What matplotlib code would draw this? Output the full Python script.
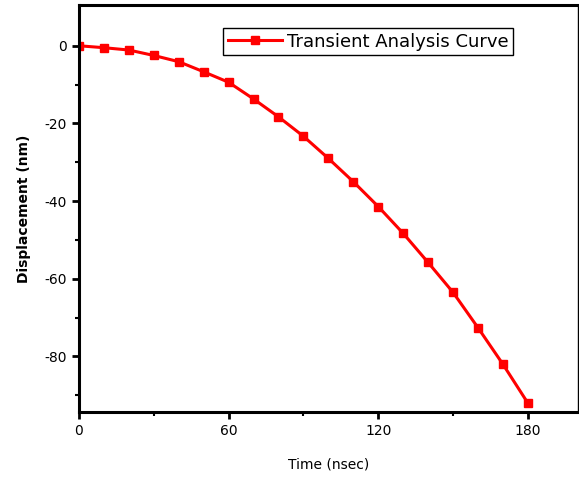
import matplotlib.pyplot as plt
import numpy as np

plt.rcParams['axes.unicode_minus'] = False

time_ns = [0, 10, 20, 30, 40, 50, 60, 70, 80, 90, 100, 110, 120, 130, 140, 150, 160, 170, 180]
displacement = [0, -0.5, -1.1, -2.5, -4.1, -6.7, -9.4, -13.7, -18.3, -23.3, -29.0, -35.0,
                -41.4, -48.3, -55.8, -63.5, -72.6, -82.0, -92.0]

fig = plt.figure(figsize=(5.79, 4.79), dpi=100)
ax = fig.add_axes([0.1364, 0.1399, 0.8614, 0.8497])

ax.plot(time_ns, displacement, color="red", lw=2.2, marker="s", ms=6,
        label="Transient Analysis Curve")

ax.set_xlim(0, 200)
ax.set_ylim(-94.3, 10.5)
ax.set_xticks([0, 60, 120, 180])
ax.set_xticks([30, 90, 150], minor=True)
ax.set_yticks([0, -20, -40, -60, -80])
ax.set_yticks([-10, -30, -50, -70, -90], minor=True)
ax.tick_params(which="major", direction="out", length=5, width=2, labelsize=10)
ax.tick_params(which="minor", direction="out", length=3, width=1.5)

for s in ["left", "bottom", "top"]:
    ax.spines[s].set_linewidth(2.2)
ax.spines["right"].set_linewidth(1.0)

ax.set_xlabel("Time (nsec)", fontsize=10, labelpad=14)
ax.set_ylabel("Displacement (nm)", fontsize=10, fontweight="bold", labelpad=10)

leg = ax.legend(loc="upper left", bbox_to_anchor=(0.289, 0.943), numpoints=1,
                handlelength=3.0, fontsize=13, fancybox=False, framealpha=1,
                borderpad=0.25, handletextpad=0.3, borderaxespad=0)
leg.get_frame().set_edgecolor("black")
leg.get_frame().set_linewidth(1.0)

fig.savefig("out.png", dpi=100)
